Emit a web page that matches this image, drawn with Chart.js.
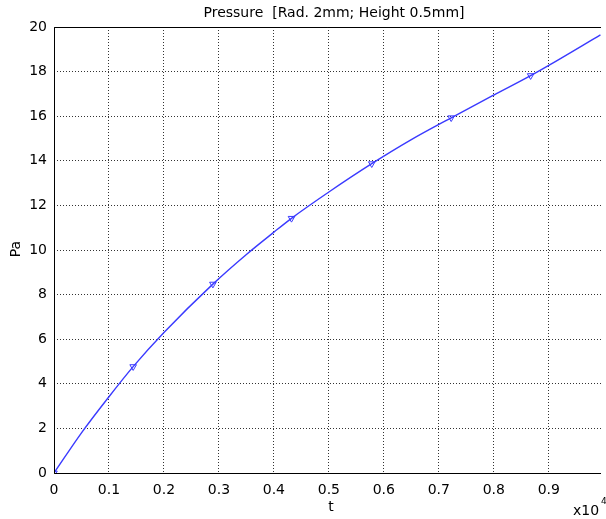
<!DOCTYPE html>
<html>
<head>
<meta charset="utf-8">
<script src="https://cdn.jsdelivr.net/npm/chart.js@4"></script>
<style>
  html, body { margin: 0; padding: 0; background: #fff; }
  #wrap { width: 606px; height: 519px; }
</style>
</head>
<body>
<div id="wrap"><canvas id="chart" width="606" height="519"></canvas></div>
<script>
// t (x10^4) and pressure values
const tValues = [0, 0.05, 0.1, 0.144, 0.2, 0.289, 0.35, 0.4, 0.432, 0.5, 0.578, 0.65, 0.7225, 0.8, 0.867, 0.9, 0.994];
const paValues = [0, 1.8, 3.42, 4.77, 6.3, 8.47, 9.8, 10.8, 11.42, 12.6, 13.87, 14.95, 15.93, 16.95, 17.82, 18.28, 19.65];
// triangle markers along the curve
const markerT = [0, 0.144, 0.289, 0.432, 0.578, 0.7225, 0.867];
const markerPa = [0, 4.77, 8.47, 11.42, 13.87, 15.93, 17.82];
const xTicks = [0, 0.1, 0.2, 0.3, 0.4, 0.5, 0.6, 0.7, 0.8, 0.9];
const yTicks = [0, 2, 4, 6, 8, 10, 12, 14, 16, 18, 20];

const font = 'DejaVu Sans';

const extras = {
    id: 'extras',
    afterDraw(chart) {
        const ctx = chart.ctx;
        const a = chart.chartArea;
        ctx.save();
        // frame: left, bottom, top
        ctx.strokeStyle = '#000';
        ctx.lineWidth = 1;
        ctx.setLineDash([]);
        ctx.beginPath();
        ctx.moveTo(a.right, a.bottom + 0.5);
        ctx.lineTo(a.left + 0.5, a.bottom + 0.5);
        ctx.lineTo(a.left + 0.5, a.top + 0.5);
        ctx.lineTo(a.right, a.top + 0.5);
        ctx.stroke();
        // title and axis labels
        ctx.fillStyle = '#000';
        ctx.font = '14px "' + font + '"';
        ctx.textAlign = 'center';
        ctx.textBaseline = 'middle';
        ctx.fillText('Pressure  [Rad. 2mm; Height 0.5mm]', 334, 13);
        ctx.fillText('t', 331, 507);
        ctx.textAlign = 'left';
        ctx.fillText('x10', 573, 511);
        ctx.font = '9px "' + font + '"';
        ctx.fillText('4', 601, 502);
        ctx.translate(16, 249);
        ctx.rotate(-Math.PI / 2);
        ctx.textAlign = 'center';
        ctx.font = '14px "' + font + '"';
        ctx.fillText('Pa', 0, 0);
        ctx.restore();
    }
};

new Chart(document.getElementById('chart'), {
    type: 'scatter',
    data: {
        datasets: [{
            data: tValues.map((t, i) => ({ x: t, y: paValues[i] })),
            showLine: true,
            borderColor: '#3a3aff',
            borderWidth: 1.4,
            pointRadius: 0,
            cubicInterpolationMode: 'monotone'
        }, {
            data: markerT.map((t, i) => ({ x: t, y: markerPa[i] })),
            showLine: false,
            pointStyle: 'triangle',
            rotation: 180,
            pointRadius: 3.8,
            borderColor: '#3a3aff',
            backgroundColor: 'rgba(0,0,0,0)',
            borderWidth: 1
        }]
    },
    options: {
        responsive: false,
        animation: false,
        layout: { padding: { top: 27, right: 0, left: 0, bottom: 0 } },
        plugins: {
            legend: { display: false },
            tooltip: { enabled: false }
        },
        scales: {
            x: {
                type: 'linear',
                min: 0,
                max: 0.995,
                afterBuildTicks(axis) { axis.ticks = xTicks.map(v => ({ value: v })); },
                afterFit(axis) { axis.height = 46; },
                grid: { color: '#333', drawTicks: false, lineWidth: 1 },
                border: { display: false, dash: [1, 2] },
                ticks: {
                    color: '#000',
                    padding: 9,
                    maxRotation: 0,
                    font: { family: font, size: 14 },
                    callback: v => String(v)
                }
            },
            y: {
                min: 0,
                max: 20,
                afterBuildTicks(axis) { axis.ticks = yTicks.map(v => ({ value: v })); },
                afterFit(axis) { axis.width = 54; },
                grid: { color: '#333', drawTicks: false, lineWidth: 1 },
                border: { display: false, dash: [1, 2] },
                ticks: {
                    color: '#000',
                    padding: 7,
                    font: { family: font, size: 14 }
                }
            }
        }
    },
    plugins: [extras]
});
</script>
</body>
</html>
